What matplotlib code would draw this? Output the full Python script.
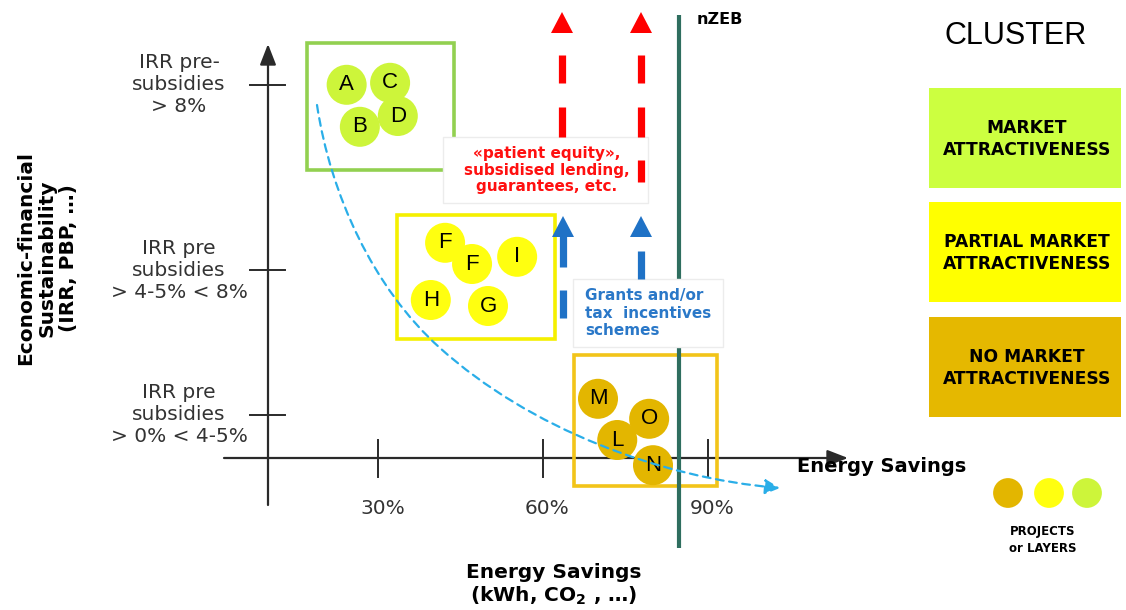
import matplotlib
matplotlib.use("Agg")
import matplotlib.pyplot as plt
from matplotlib.patches import Rectangle, Polygon, FancyArrowPatch
from matplotlib.path import Path
from matplotlib import transforms

# ---------------- data ----------------
x_ticks = [30, 60, 90]
x_tick_labels = ["30%", "60%", "90%"]
y_ticks = [1.075, 4.7, 9.325]
y_tick_labels = ["IRR pre\nsubsidies\n> 0% < 4-5%",
                 "IRR pre\nsubsidies\n> 4-5% < 8%",
                 "IRR pre-\nsubsidies\n> 8%"]

proj_labels = ["A", "C", "B", "D", "F", "F", "I", "H", "G", "M", "O", "L", "N"]
proj_savings = [24.3, 32.2, 26.7, 33.6, 42.2, 47.1, 55.3, 39.6, 50.0, 70.0, 79.3, 73.5, 80.0]
proj_sustain = [9.33, 9.38, 8.28, 8.55, 5.38, 4.85, 5.03, 3.95, 3.80, 1.48, 0.98, 0.45, -0.18]
proj_cluster = [0, 0, 0, 0, 1, 1, 1, 1, 1, 2, 2, 2, 2]

cluster_names = ["MARKET\nATTRACTIVENESS",
                 "PARTIAL MARKET\nATTRACTIVENESS",
                 "NO MARKET\nATTRACTIVENESS"]
cluster_x0 = [17.1, 33.5, 65.6]
cluster_x1 = [43.8, 62.2, 91.6]
cluster_y0 = [7.2, 2.975, -0.7]
cluster_y1 = [10.375, 6.075, 2.575]

nzeb_savings = 84.7

# ---------------- styles ----------------
bubble_colors = ["#cdf53a", "#ffff10", "#e3b600"]
box_edge_colors = ["#92d050", "#f5f000", "#f2c419"]
panel_colors = ["#ccff40", "#ffff00", "#e5b800"]

W, H = 1126, 610
fig = plt.figure(figsize=(W / 100, H / 100), dpi=100)
ax = fig.add_axes([0, 0, 1, 1])
# data scale: x_px = 213 + 5.5*x ; y_px = 458 - 40*y
ax.set_xlim(-213 / 5.5, (W - 213) / 5.5)
ax.set_ylim((458 - H) / 40, 458 / 40)
ax.axis("off")

pix = transforms.Affine2D().scale(1 / W, -1 / H).translate(0, 1) + fig.transFigure

AX_COL = "#2a2a2a"
# axes with arrows
ax.add_patch(FancyArrowPatch((268, 505), (268, 44), arrowstyle="-|>,head_length=0.9,head_width=0.35",
                             mutation_scale=14, lw=1.6, color=AX_COL, transform=pix,
                             shrinkA=0, shrinkB=0, zorder=2))
ax.add_patch(FancyArrowPatch((224, 458), (848, 458), arrowstyle="-|>,head_length=0.9,head_width=0.35",
                             mutation_scale=14, lw=1.6, color=AX_COL, transform=pix,
                             shrinkA=0, shrinkB=0, zorder=2))
# ticks
for xt, lab in zip(x_ticks, x_tick_labels):
    ax.plot([xt, xt], [0.45, -0.475], color=AX_COL, lw=1.4, zorder=2)
    ax.text(xt + 0.8, (458 - 508) / 40, lab, ha="center", va="center",
            fontsize=14.5, color="#333333", family="DejaVu Sans", zorder=2)
for yt, lab in zip(y_ticks, y_tick_labels):
    ax.plot([(250 - 213) / 5.5, (285 - 213) / 5.5], [yt, yt], color=AX_COL, lw=1.4, zorder=2)
    ax.text(179, 458 - 40 * yt, lab, transform=pix, ha="center", va="center",
            multialignment="center", fontsize=14.5, color="#333333",
            family="DejaVu Sans", linespacing=1.2, zorder=2)

# axis titles
ax.text(47, 258, "Economic-financial\nSustainability\n(IRR, PBP, …)", transform=pix,
        rotation=90, ha="center", va="center", multialignment="center",
        fontsize=14.5, fontweight="bold", family="DejaVu Sans", linespacing=1.15)
ax.text(554, 585, "Energy Savings\n(kWh, CO$_{\\mathbf{2}}$ , …)", transform=pix,
        ha="center", va="center", multialignment="center",
        fontsize=14.5, fontweight="bold", family="DejaVu Sans", linespacing=1.15)
ax.text(797, 467, "Energy Savings", transform=pix, ha="left", va="center",
        fontsize=14, fontweight="bold", family="DejaVu Sans")

# cluster boxes
for i in range(3):
    ax.add_patch(Rectangle((cluster_x0[i], cluster_y0[i]), cluster_x1[i] - cluster_x0[i],
                           cluster_y1[i] - cluster_y0[i], fill=False,
                           edgecolor=box_edge_colors[i], lw=2.6, zorder=3))

# nZEB line
ax.plot([nzeb_savings, nzeb_savings], [(458 - 15) / 40, (458 - 548) / 40],
        color="#2f6e5f", lw=3.0, zorder=4, solid_capstyle="butt")
ax.text(697, 20, "nZEB", transform=pix, ha="left", va="center",
        fontsize=11.5, fontweight="bold", family="DejaVu Sans")

# bubbles
for lab, xs, ys, c in zip(proj_labels, proj_savings, proj_sustain, proj_cluster):
    ax.scatter([xs], [ys], s=830, color=bubble_colors[c], edgecolors="none", zorder=5)
    ax.text(xs, ys, lab, ha="center", va="center", fontsize=16,
            family="Liberation Sans", zorder=6)

# trend curve
verts = [(317, 105), (330.4, 194), (373, 288), (440, 348),
         (529, 428), (660, 478), (780, 488)]
codes = [Path.MOVETO] + [Path.CURVE4] * 6
ax.add_patch(FancyArrowPatch(path=Path(verts, codes),
                             arrowstyle="-|>,head_length=0.9,head_width=0.45",
                             mutation_scale=10, lw=1.6, linestyle=(0, (3.5, 2.5)),
                             color="#2aaee8", transform=pix, zorder=7))

# text boxes
ax.add_patch(Rectangle((443, 137), 205, 66, transform=pix, facecolor="white",
                       edgecolor="#ececec", lw=1, zorder=8))
ax.add_patch(Rectangle((573, 279), 150, 68, transform=pix, facecolor="white",
                       edgecolor="#ececec", lw=1, zorder=8))

RED = "#ff0000"
BLUE = "#1f72c6"


def head(x, ytop, ybot, col):
    ax.add_patch(Polygon([(x, ytop), (x - 11, ybot), (x + 11, ybot)], closed=True,
                         transform=pix, facecolor=col, edgecolor="none", zorder=9))


def dash(x, y0, y1, col):
    ax.plot([x, x], [y0, y1], transform=pix, color=col, lw=5.2,
            solid_capstyle="butt", zorder=9)


# red arrows
for xr, segs in [(562, [(55, 83), (107, 137)]), (641, [(55, 83), (107, 137), (160, 182)])]:
    head(xr, 12, 33, RED)
    for a, b in segs:
        dash(xr, a, b, RED)
# blue arrows
head(563, 216, 237, BLUE)
dash(563, 236, 267, BLUE)
dash(563, 290, 318, BLUE)
head(641, 216, 237, BLUE)
dash(641, 251, 279, BLUE)

ax.text(547, 170, "«patient equity»,\nsubsidised lending,\nguarantees, etc.", transform=pix,
        ha="center", va="center", multialignment="center", color="#ff1010",
        fontsize=11, fontweight="bold", family="DejaVu Sans", linespacing=1.1, zorder=10)
ax.text(585, 313, "Grants and/or\ntax  incentives\nschemes", transform=pix,
        ha="left", va="center", multialignment="left", color="#2a78c8",
        fontsize=11, fontweight="bold", family="DejaVu Sans", linespacing=1.2, zorder=10)

# cluster panel
ax.text(1016, 36, "CLUSTER", transform=pix, ha="center", va="center",
        fontsize=22, family="Liberation Sans")
panel_tops = [88, 202, 317]
for i in range(3):
    ax.add_patch(Rectangle((929, panel_tops[i]), 192, 100, transform=pix,
                           facecolor=panel_colors[i], edgecolor="none", zorder=2))
    ax.text(1027, panel_tops[i] + 51, cluster_names[i], transform=pix, ha="center",
            va="center", multialignment="center", fontsize=12.3, fontweight="bold",
            family="DejaVu Sans", linespacing=1.25, zorder=3)

# legend dots
for xc, c in zip([1008, 1049, 1087], [2, 1, 0]):
    ax.scatter([(xc - 213) / 5.5], [(458 - 493) / 40], s=460,
               color=bubble_colors[c], edgecolors="none", zorder=3)
ax.text(1043, 540, "PROJECTS\nor LAYERS", transform=pix, ha="center", va="center",
        multialignment="center", fontsize=8.5, fontweight="bold",
        family="DejaVu Sans", linespacing=1.3)

fig.savefig("out.png", dpi=100)
